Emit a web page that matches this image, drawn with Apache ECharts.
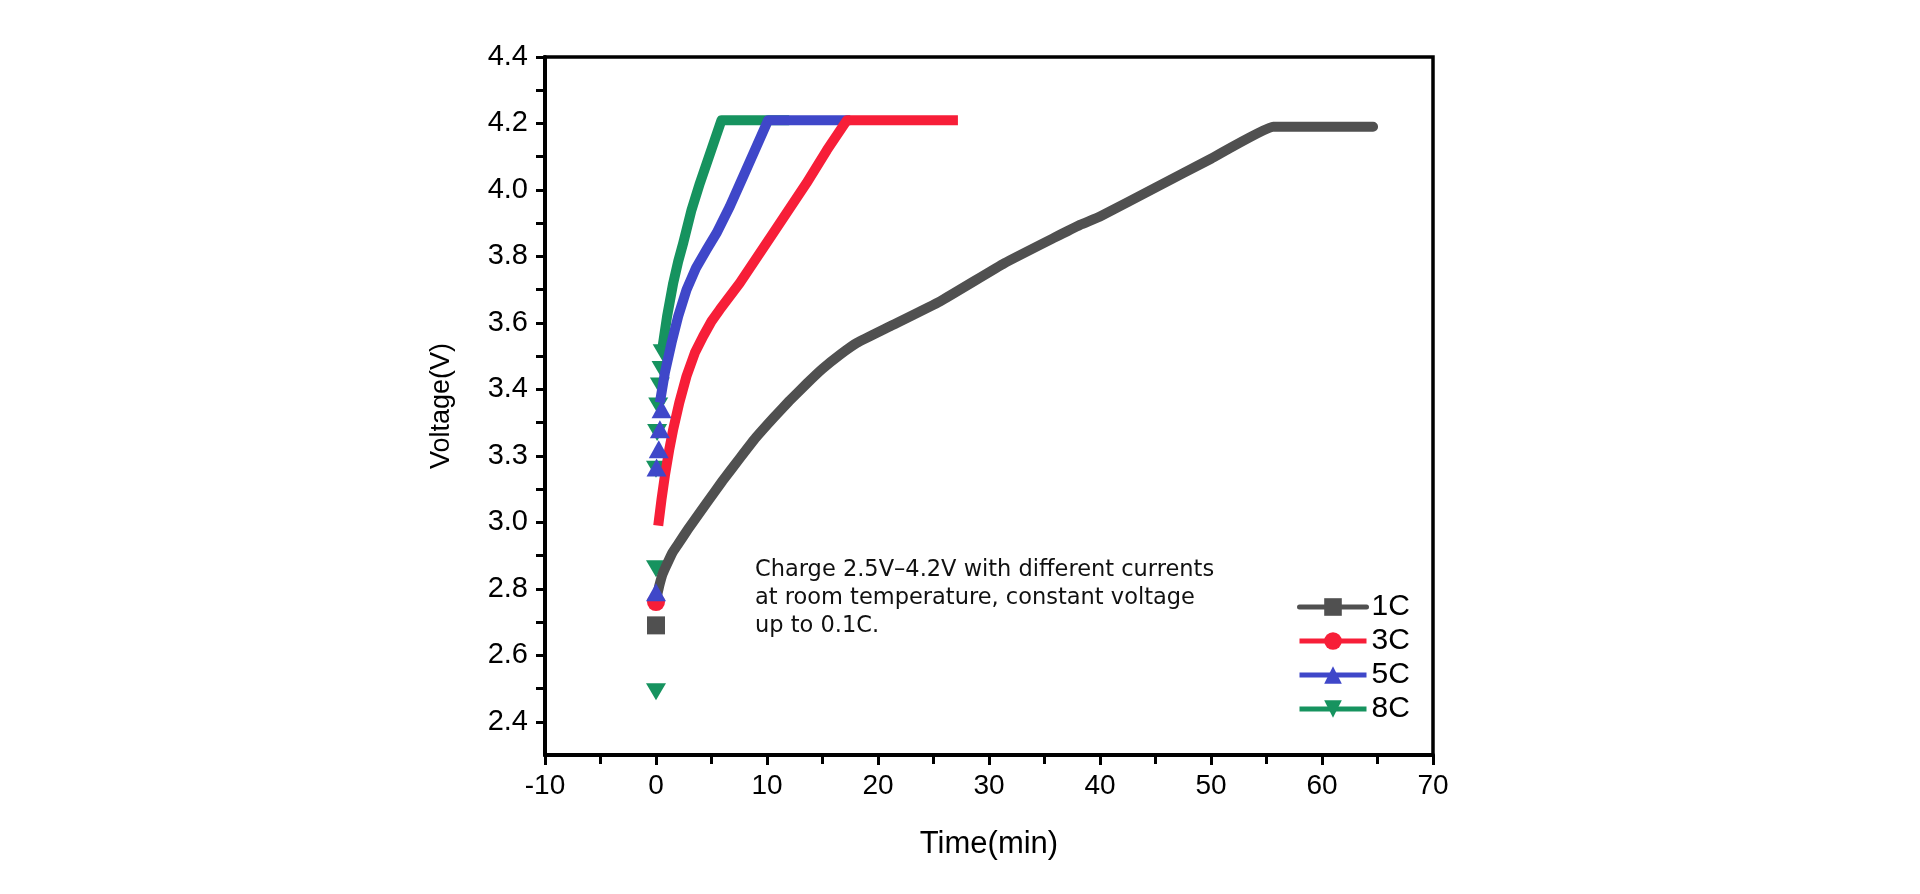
<!DOCTYPE html>
<html>
<head>
<meta charset="utf-8">
<script src="https://cdn.jsdelivr.net/npm/echarts@6/dist/echarts.min.js"></script>
<style>
html,body{margin:0;padding:0;background:#fff;}
#chart{width:1920px;height:894px;}
</style>
</head>
<body>
<div id="chart"></div>
<script>
// ---- data ----
const seriesNames = ['1C', '3C', '5C', '8C'];

const time1C = [0.1, 0.3, 0.6, 1.0, 1.5, 2.0, 3.0, 4.6, 6.0, 7.6, 9.0, 10.6, 12.0, 13.6, 15.0, 16.6, 18.1, 21.1, 25.6, 31.4, 35.8, 38.2, 40.0, 45.0, 50.0, 55.6, 64.6];
const volt1C = [2.78, 2.81, 2.845, 2.875, 2.91, 2.935, 2.985, 3.06, 3.125, 3.195, 3.255, 3.315, 3.365, 3.418, 3.462, 3.505, 3.54, 3.59, 3.665, 3.78, 3.855, 3.895, 3.92, 4.007, 4.094, 4.19, 4.19];

const time3C = [0.2, 0.5, 0.8, 1.2, 1.55, 2.1, 2.75, 3.5, 4.25, 5.0, 5.75, 7.55, 10.55, 13.55, 15.4, 17.2, 27.2];
const volt3C = [2.99, 3.07, 3.14, 3.22, 3.28, 3.36, 3.44, 3.51, 3.56, 3.605, 3.64, 3.72, 3.87, 4.02, 4.12, 4.21, 4.21];

const time5C = [0.35, 0.8, 1.4, 2.0, 2.75, 3.6, 4.55, 5.45, 6.65, 7.85, 10.1, 17.5];
const volt5C = [3.36, 3.45, 3.54, 3.62, 3.70, 3.765, 3.82, 3.87, 3.95, 4.04, 4.21, 4.21];

const time8C = [0.6, 1.0, 1.55, 2.0, 2.45, 3.2, 3.95, 5.9, 12];
const volt8C = [3.53, 3.62, 3.72, 3.785, 3.84, 3.94, 4.02, 4.21, 4.21];

// isolated measured points near t = 0
const markTime1C = [0];
const markVolt1C = [2.69];
const markTime3C = [0];
const markVolt3C = [2.76];
const markTime5C = [0, 0.05, 0.25, 0.35, 0.5];
const markVolt5C = [2.79, 3.165, 3.22, 3.28, 3.34];
const markTime8C = [0, 0, 0, 0.1, 0.2, 0.35, 0.5, 0.6];
const markVolt8C = [2.49, 2.86, 3.16, 3.27, 3.35, 3.41, 3.46, 3.51];

const xTicks = [-10, 0, 10, 20, 30, 40, 50, 60, 70];
const yTickValues = [2.4, 2.6, 2.8, 3.0, 3.2, 3.4, 3.6, 3.8, 4.0, 4.2, 4.4];
const yTickLabels = ['2.4', '2.6', '2.8', '3.0', '3.3', '3.4', '3.6', '3.8', '4.0', '4.2', '4.4'];
const yMinorValues = [2.5, 2.7, 2.9, 3.1, 3.3, 3.5, 3.7, 3.9, 4.1, 4.3];

const noteLines = ['Charge 2.5V\u20134.2V with different currents', 'at room temperature, constant voltage', 'up to 0.1C.'];

// ---- build ----
const zip = (a, b) => a.map((v, i) => [v, b[i]]);
const colors = {'1C': '#505050', '3C': '#f71e38', '5C': '#3f47c9', '8C': '#16935f'};
const downTri = 'path://M0,0 L10,0 L5,9 Z';
const symbols = {'1C': 'rect', '3C': 'circle', '5C': 'triangle', '8C': downTri};
const lineData = {'1C': zip(time1C, volt1C), '3C': zip(time3C, volt3C), '5C': zip(time5C, volt5C), '8C': zip(time8C, volt8C)};
const markData = {'1C': zip(markTime1C, markVolt1C), '3C': zip(markTime3C, markVolt3C), '5C': zip(markTime5C, markVolt5C), '8C': zip(markTime8C, markVolt8C)};
const lineZ = {'8C': 2, '5C': 3, '3C': 4, '1C': 5};
const markZ = {'8C': 1, '1C': 6, '3C': 7, '5C': 8};

const series = [];
seriesNames.forEach(n => {
  series.push({
    name: n, type: 'line', data: lineData[n], showSymbol: false,
    symbol: symbols[n], symbolSize: 18, z: lineZ[n], smooth: n === '1C' ? 0.1 : false,
    lineStyle: {color: colors[n], width: 10, cap: n === '1C' ? 'round' : 'butt', join: 'round'},
    itemStyle: {color: colors[n]}, animation: false
  });
});
seriesNames.forEach(n => {
  series.push({
    name: n, type: 'scatter', data: markData[n], symbol: symbols[n],
    symbolSize: n === '8C' ? [20, 17] : (n === '5C' ? [20, 18] : 18), z: markZ[n],
    itemStyle: {color: colors[n], opacity: 1}, animation: false
  });
});

const chart = echarts.init(document.getElementById('chart'), null, {renderer: 'canvas'});
chart.setOption({
  backgroundColor: '#ffffff',
  animation: false,
  grid: {left: 545, right: 487, top: 57, bottom: 139, show: true, borderColor: '#000', borderWidth: 3.5, backgroundColor: 'transparent'},
  xAxis: {
    type: 'value', min: -10, max: 70, interval: 10,
    axisLine: {show: true, onZero: false, lineStyle: {color: '#000', width: 4}},
    axisTick: {show: true, inside: false, length: 10, lineStyle: {color: '#000', width: 3}},
    minorTick: {show: true, splitNumber: 2, length: 9, lineStyle: {color: '#000', width: 3}},
    splitLine: {show: false},
    axisLabel: {color: '#000', fontSize: 28, fontFamily: '"Liberation Sans", Arial, sans-serif', margin: 17,
      formatter: v => xTicks.includes(v) ? String(v) : ''},
    name: 'Time(min)', nameLocation: 'middle', nameGap: 74,
    nameTextStyle: {color: '#000', fontSize: 31, fontFamily: '"Liberation Sans", Arial, sans-serif'}
  },
  yAxis: {
    type: 'value', min: 2.3, max: 4.4, interval: 0.1,
    axisLine: {show: true, onZero: false, lineStyle: {color: '#000', width: 4}},
    axisTick: {show: true, inside: false, length: 9, lineStyle: {color: '#000', width: 3},
      customValues: yTickValues.concat(yMinorValues)},
    splitLine: {show: false},
    axisLabel: {color: '#000', fontSize: 29, fontFamily: '"Liberation Sans", Arial, sans-serif', margin: 17,
      customValues: yTickValues,
      formatter: v => {
        const i = yTickValues.findIndex(t => Math.abs(t - v) < 1e-6);
        return i >= 0 ? yTickLabels[i] : '';
      }},
    name: 'Voltage(V)', nameLocation: 'middle', nameGap: 90, nameRotate: 90,
    nameTextStyle: {color: '#000', fontSize: 27, fontFamily: '"Liberation Sans", Arial, sans-serif'}
  },
  legend: {
    data: seriesNames, orient: 'vertical', left: 1292, top: 587,
    itemWidth: 67, itemHeight: 22, itemGap: 4,
    lineStyle: {width: 5},
    textStyle: {color: '#000', fontSize: 30, fontFamily: '"Liberation Sans", Arial, sans-serif', lineHeight: 30, padding: [0, 0, 0, 0]},
    selectedMode: false
  },
  graphic: [{
    type: 'text', left: 755, top: 556, silent: true,
    style: {text: noteLines.join('\n'), font: '22.5px "DejaVu Sans", sans-serif', lineHeight: 28, fill: '#111'}
  }],
  series: series
});
</script>
</body>
</html>
